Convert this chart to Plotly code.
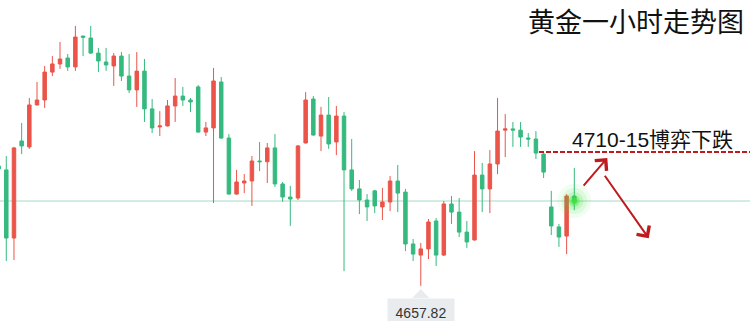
import plotly.graph_objects as go

# OHLC (1-hour gold candles)
opens = [4706.4, 4704.8, 4677.2, 4716.5, 4714.1, 4731.1, 4733.1, 4744.4, 4747.7, 4750.1,
         4746.5, 4759.0, 4758.2, 4752.1, 4748.5, 4746.9, 4750.9, 4742.8, 4737.2, 4744.8,
         4729.5, 4722.2, 4722.6, 4730.7, 4734.7, 4733.1, 4738.4, 4720.1, 4721.8, 4740.4,
         4717.7, 4695.0, 4699.5, 4700.3, 4708.4, 4708.1, 4713.7, 4699.1, 4693.8, 4693.4,
         4715.7, 4733.5, 4718.5, 4727.0, 4716.1, 4726.6, 4704.8, 4697.1, 4692.6, 4696.3,
         4689.8, 4691.8, 4700.3, 4695.8, 4674.8, 4670.3, 4672.8, 4684.1, 4670.3, 4691.0,
         4687.7, 4679.6, 4676.4, 4702.7, 4697.1, 4707.2, 4720.9, 4721.4, 4720.9, 4717.7,
         4717.3, 4711.2, 4689.8, 4681.7, 4678.0, 4694.2]
highs = [4706.6, 4710.4, 4714.1, 4723.8, 4733.9, 4740.4, 4746.9, 4750.9, 4756.6, 4751.7,
         4763.1, 4759.1, 4763.1, 4754.2, 4754.2, 4752.1, 4752.5, 4751.7, 4752.5, 4749.7,
         4733.5, 4728.6, 4733.1, 4742.0, 4738.4, 4733.9, 4739.2, 4724.2, 4746.1, 4742.4,
         4719.3, 4704.8, 4703.1, 4710.4, 4716.1, 4715.7, 4719.3, 4699.9, 4698.3, 4714.9,
         4736.3, 4734.7, 4730.3, 4734.3, 4730.7, 4728.2, 4717.3, 4700.7, 4695.0, 4696.7,
         4697.5, 4702.3, 4706.8, 4697.1, 4676.8, 4675.2, 4684.9, 4685.3, 4692.2, 4694.2,
         4693.4, 4684.1, 4712.4, 4707.6, 4712.8, 4733.9, 4727.4, 4724.2, 4724.2, 4719.7,
         4720.5, 4711.6, 4696.3, 4682.9, 4695.0, 4705.6]
lows = [4704.9, 4667.9, 4668.3, 4711.2, 4713.3, 4730.9, 4729.9, 4742.8, 4745.7, 4744.9,
        4744.9, 4750.9, 4751.7, 4744.4, 4744.9, 4738.8, 4740.8, 4735.9, 4730.3, 4724.2,
        4719.7, 4718.5, 4722.4, 4724.2, 4730.7, 4728.2, 4719.9, 4718.5, 4691.4, 4717.3,
        4694.8, 4694.8, 4695.4, 4690.2, 4704.3, 4699.5, 4697.9, 4691.8, 4682.1, 4692.6,
        4715.5, 4718.7, 4712.4, 4713.3, 4710.8, 4663.8, 4696.3, 4686.9, 4684.1, 4687.3,
        4684.5, 4688.1, 4687.7, 4671.9, 4667.9, 4657.82, 4668.7, 4665.9, 4669.9, 4682.9,
        4677.6, 4673.2, 4676.2, 4687.7, 4687.3, 4703.1, 4710.0, 4714.1, 4714.1, 4714.1,
        4709.2, 4701.5, 4678.4, 4673.6, 4670.7, 4688.5]
closes = [4705.2, 4677.2, 4713.7, 4714.5, 4731.1, 4733.1, 4744.4, 4747.7, 4749.7, 4746.5,
          4758.6, 4758.5, 4752.1, 4748.9, 4747.3, 4750.9, 4742.8, 4737.2, 4744.8, 4729.5,
          4721.8, 4722.6, 4730.7, 4734.7, 4733.1, 4732.3, 4720.1, 4721.8, 4740.8, 4717.7,
          4695.0, 4699.9, 4700.3, 4708.4, 4708.1, 4713.7, 4699.1, 4693.8, 4693.0, 4714.5,
          4733.1, 4718.9, 4727.0, 4715.3, 4726.6, 4704.8, 4697.1, 4692.6, 4689.8, 4690.2,
          4691.8, 4700.3, 4695.4, 4674.8, 4670.7, 4672.8, 4683.7, 4670.3, 4691.0, 4687.7,
          4679.6, 4675.6, 4702.7, 4697.1, 4707.2, 4720.5, 4721.4, 4720.9, 4718.1, 4717.3,
          4711.6, 4703.9, 4682.1, 4677.6, 4694.2, 4692.2]
idx = list(range(len(opens)))

title_text = "黄金一小时走势图"
resistance_level = 4712.0
resistance_label = "4710-15博弈下跌"
low_value = min(lows)
low_index = lows.index(low_value)
last_index = idx[-1]
last_close = closes[-1]

RED = "#EB5449"
GREEN = "#35B97F"
DARKRED = "#BF1A1E"

fig = go.Figure()
fig.add_trace(go.Candlestick(
    x=idx, open=opens, high=highs, low=lows, close=closes,
    increasing=dict(line=dict(color=RED, width=1), fillcolor=RED),
    decreasing=dict(line=dict(color=GREEN, width=1), fillcolor=GREEN),
    whiskerwidth=0, showlegend=False, hoverinfo="skip",
))

# glow on the last candle
for s, op in [(34, 0.07), (26, 0.10), (18, 0.18), (11, 0.35), (6, 0.85)]:
    fig.add_trace(go.Scatter(
        x=[last_index], y=[last_close], mode="markers",
        marker=dict(size=s, color="#3FE03F", opacity=op, line=dict(width=0)),
        showlegend=False, hoverinfo="skip"))

shapes = [
    # last-price line
    dict(type="line", xref="paper", x0=0, x1=1, yref="y", y0=last_close, y1=last_close,
         line=dict(color="#A6DAC6", width=1), layer="below"),
    # resistance dashed line
    dict(type="line", xref="x", x0=70.4, x1=200, yref="y", y0=resistance_level, y1=resistance_level,
         line=dict(color=DARKRED, width=2, dash="5px,2px")),
    # pointer triangle of low label
    dict(type="path", xref="x", yref="y", xsizemode="pixel", ysizemode="pixel",
         xanchor=low_index, yanchor=low_value,
         path="M-8.5,-12 L0,-3 L8.5,-12 Z",
         fillcolor="#E9ECEF", line=dict(width=0)),
]

annotations = [
    dict(text=title_text, xref="paper", yref="paper", x=745 / 750, y=1,
         xanchor="right", yanchor="top", showarrow=False, borderpad=0,
         font=dict(family="Noto Sans CJK SC", size=27, color="#111111")),
    dict(text=resistance_label, xref="x", yref="y", x=74.5, y=4717.3,
         xanchor="left", yanchor="middle", showarrow=False,
         font=dict(family="Liberation Sans, Noto Sans CJK SC", size=21, color="#111111")),
    dict(text="4657.82", xref="x", yref="paper", x=low_index, y=1 - 298 / 321,
         xanchor="center", yanchor="top", showarrow=False, width=56, height=18,
         bgcolor="#E9ECEF", borderpad=5,
         font=dict(family="Liberation Sans", size=14, color="#333333")),
    # up arrow
    dict(x=79.3, y=4709.6, xref="x", yref="y", ax=-25, ay=29, axref="pixel", ayref="pixel",
         showarrow=True, arrowhead=4, arrowsize=1.5, arrowwidth=2, arrowcolor=DARKRED, text=""),
    # down arrow
    dict(x=84.7, y=4677.1, xref="x", yref="y", ax=-45, ay=-64, axref="pixel", ayref="pixel",
         showarrow=True, arrowhead=4, arrowsize=1.5, arrowwidth=2, arrowcolor=DARKRED, text=""),
]

fig.update_layout(
    width=750, height=321, margin=dict(l=0, r=0, t=0, b=0),
    paper_bgcolor="white", plot_bgcolor="white",
    boxgap=0.35,
    xaxis=dict(range=[0.18, 97.89], visible=False, rangeslider=dict(visible=False), fixedrange=True),
    yaxis=dict(range=[4643.6, 4773.6], visible=False, fixedrange=True),
    shapes=shapes, annotations=annotations, showlegend=False,
)

fig.write_html("out.html")
